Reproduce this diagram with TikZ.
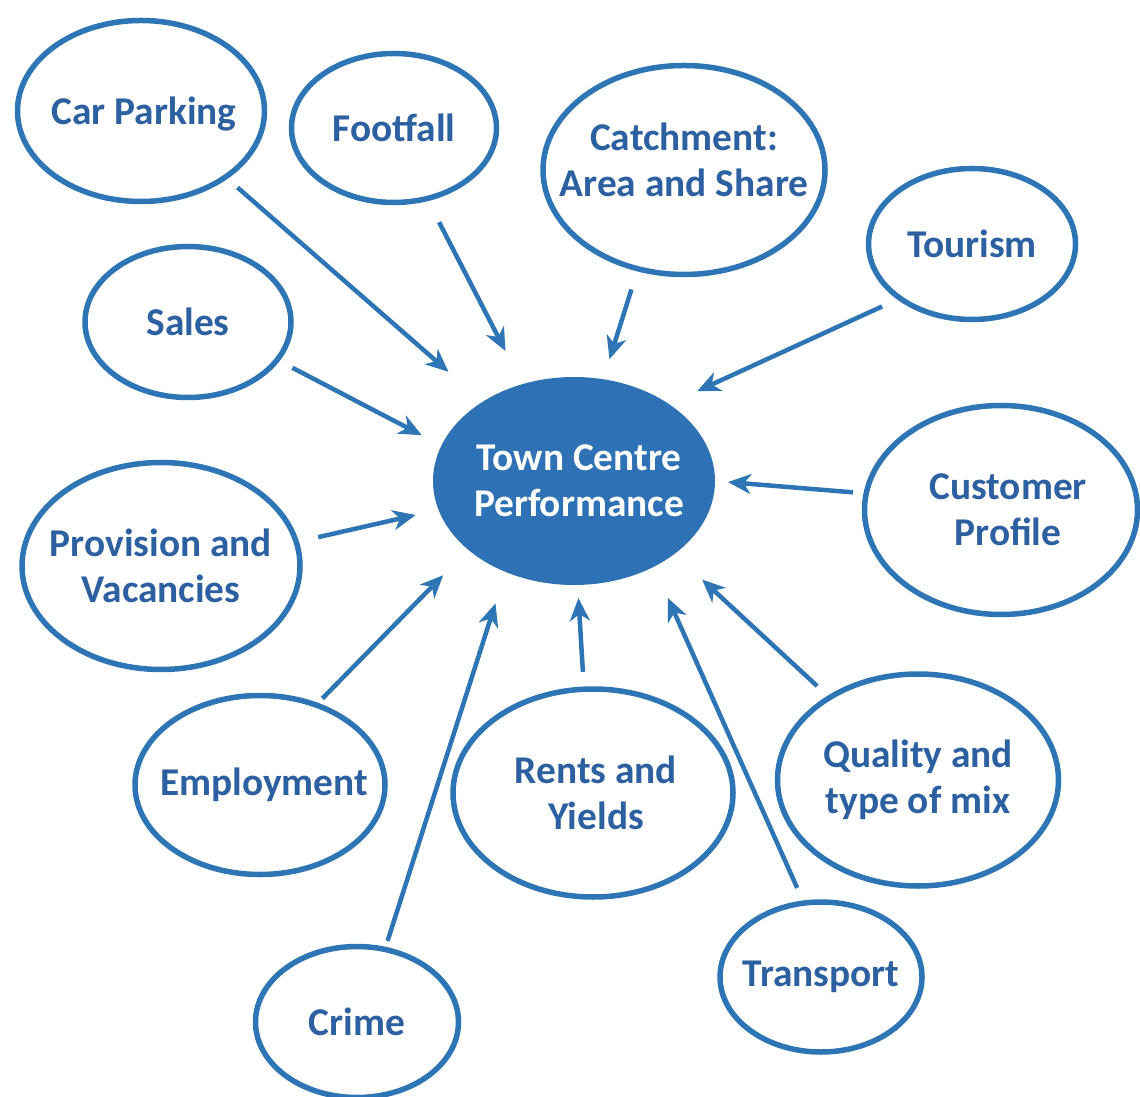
\documentclass[tikz,border=0pt]{standalone}
\usepackage{fontspec}
\setmainfont{Carlito}
\usetikzlibrary{shapes.geometric,arrows.meta}
\definecolor{lineblue}{RGB}{46,117,182}
\definecolor{textblue}{RGB}{44,96,160}
\definecolor{hubblue}{RGB}{46,113,180}
\begin{document}
\begin{tikzpicture}[x=0.1mm,y=-0.1mm,
  bub/.style n args={2}{ellipse, draw=lineblue, line width=0.55mm, fill=white,
     inner sep=0pt, outer sep=0pt, minimum width=#1, minimum height=#2},
  hub/.style n args={2}{ellipse, fill=hubblue, draw=none,
     inner sep=0pt, outer sep=0pt, minimum width=#1, minimum height=#2},
  txt/.style={text=textblue, font=\fontsize{11.2pt}{13.2pt}\selectfont\bfseries,
     align=center, inner sep=0pt},
  arr/.style={draw=lineblue, line width=0.45mm,
     -{Stealth[length=2.3mm, width=2mm, inset=0.7mm]}},
]
\useasboundingbox (0,0) rectangle (1140,1097);

\node[hub={28.2mm}{20.8mm}, label={[txt,text=white,xshift=0.5mm]center:{Town Centre\\Performance}}] (tcp) at (574,481) {};

\node[bub={24.7mm}{18.1mm}, label={[txt,yshift=-0.3mm,xshift=0.3mm]center:Car Parking}] (carp) at (141,111) {};
\node[bub={20.5mm}{14.9mm}, label={[txt]center:Footfall}] (foot) at (394,128) {};
\node[bub={28.2mm}{20.9mm}, label={[txt,yshift=1mm]center:{Catchment:\\Area and Share}}] (catch) at (684,170) {};
\node[bub={20.7mm}{15.1mm}, label={[txt]center:Tourism}] (tour) at (972,244) {};
\node[bub={20.6mm}{15.1mm}, label={[txt]center:Sales}] (sales) at (188,322) {};
\node[bub={27.3mm}{20.9mm}, label={[txt,xshift=0.7mm]center:{Customer\\Profile}}] (cust) at (1001,510) {};
\node[bub={27.8mm}{20.7mm}, label={[txt]center:{Provision and\\Vacancies}}] (prov) at (161,566) {};
\node[bub={25.0mm}{17.9mm}, label={[txt,xshift=0.4mm]center:Employment}] (emp) at (260,785) {};
\node[bub={28.0mm}{20.8mm}, label={[txt,xshift=0.3mm]center:{Rents and\\Yields}}] (rents) at (593,793) {};
\node[bub={28.1mm}{21.2mm}, label={[txt]center:{Quality and\\type of mix}}] (qual) at (918,780) {};
\node[bub={20.2mm}{15.0mm}, label={[txt]center:Transport}] (trans) at (821,977) {};
\node[bub={20.3mm}{15.1mm}, label={[txt]center:Crime}] (crime) at (357,1022) {};

\draw[arr, shorten <=1.6mm,  shorten >=4.55mm] (carp.-38.1)  -- (tcp.139.6);
\draw[arr, shorten <=2.66mm, shorten >=3.72mm] (foot.-65.6)  -- (tcp.118.8);
\draw[arr, shorten <=2.17mm, shorten >=2.1mm]  (catch.-115.8) -- (tcp.74.0);
\draw[arr, shorten <=1.97mm, shorten >=3.1mm]  (tour.-143.1) -- (tcp.39.9);
\draw[arr, shorten <=1.72mm, shorten >=2.21mm] (sales.-23.9) -- (tcp.165.1);
\draw[arr, shorten <=1.33mm, shorten >=1.3mm]  (cust.173.1)  -- (tcp.0.4);
\draw[arr, shorten <=2.25mm, shorten >=2.34mm] (prov.10.5)   -- (tcp.-168.6);
\draw[arr, shorten <=0.91mm, shorten >=3.57mm] (emp.55.7)    -- (tcp.-147.6);
\draw[arr, shorten <=0.89mm, shorten >=3.3mm]  (crime.69.1)  -- (tcp.-127.3);
\draw[arr, shorten <=1.74mm, shorten >=1.31mm] (rents.95.7)  -- (tcp.-88.0);
\draw[arr, shorten <=1.66mm, shorten >=3.42mm] (trans.103.7) -- (tcp.-47.95);
\draw[arr, shorten <=1.7mm,  shorten >=3.77mm] (qual.137.1)  -- (tcp.-36.4);
\end{tikzpicture}
\end{document}
